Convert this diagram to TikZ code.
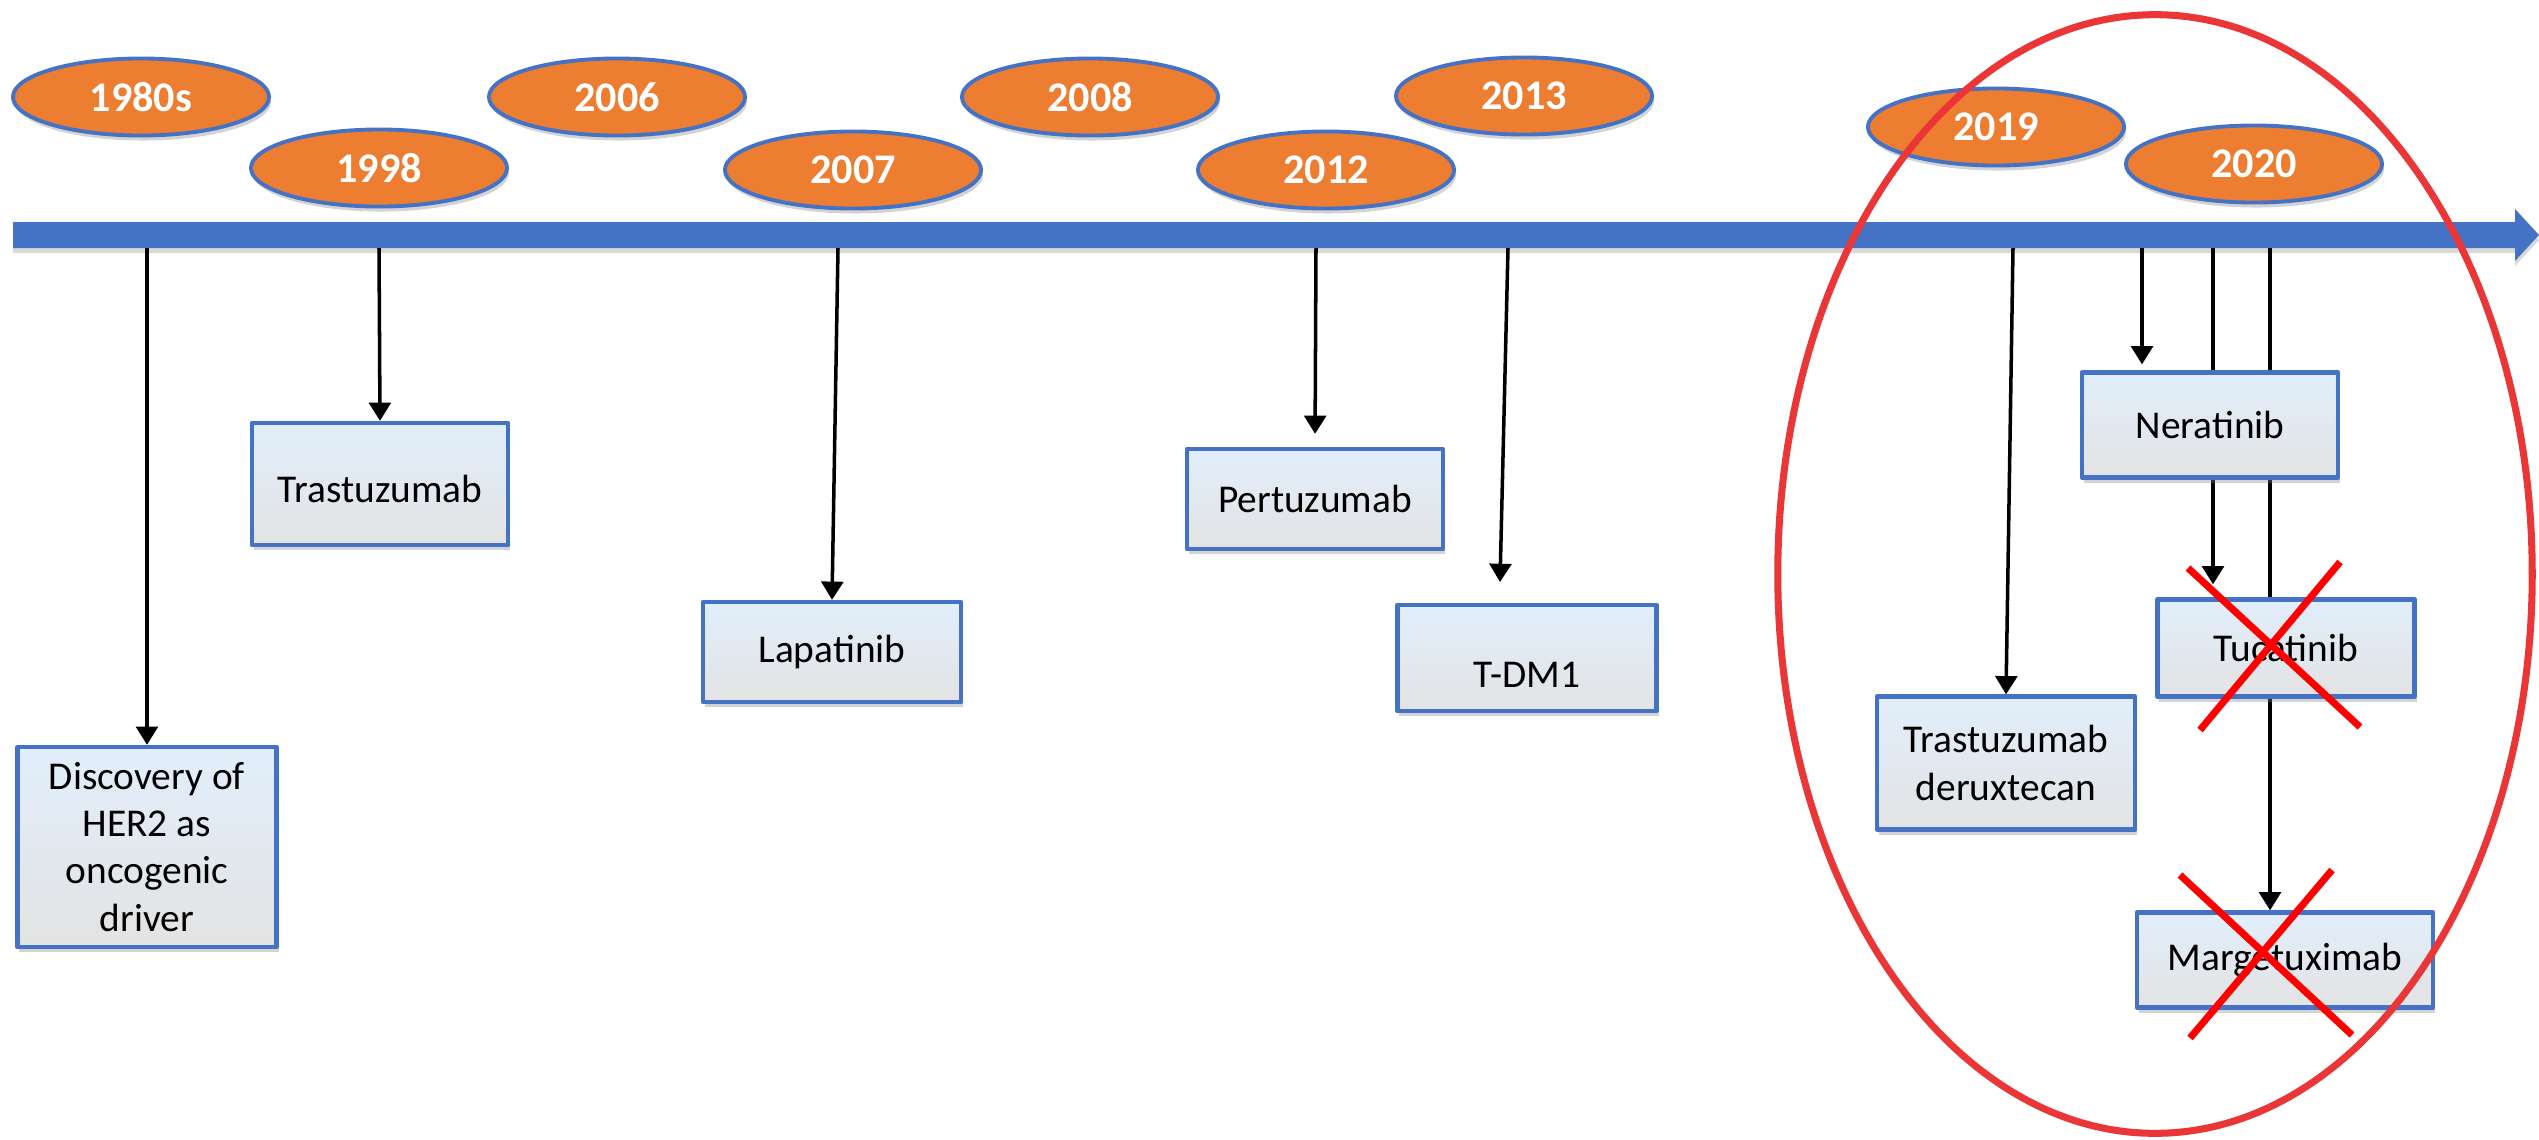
\documentclass[tikz,border=0pt]{standalone}
\usepackage{fontspec}
\setmainfont{Carlito}
\usepackage{tikz}
\usetikzlibrary{arrows.meta}
\usetikzlibrary{shapes.geometric}
\usetikzlibrary{shadows}
\usetikzlibrary{positioning}

\definecolor{axisblue}{HTML}{4472C4}
\definecolor{yearorange}{HTML}{ED7D31}
\definecolor{boxtop}{HTML}{E1EEFB}
\definecolor{boxbottom}{HTML}{E3E3E3}
\definecolor{ringred}{HTML}{EA3636}

\pgfdeclarelayer{background}
\pgfsetlayers{background,main}

\tikzset{
  year/.style={ellipse,draw=axisblue,line width=1.1pt,fill=yearorange,
    minimum width=2.56cm,minimum height=0.77cm,inner sep=0pt,text=white,
    font=\fontsize{12}{14}\selectfont\bfseries,
    drop shadow={opacity=0.35,shadow xshift=0.02cm,shadow yshift=-0.05cm}},
  drug/.style={rectangle,draw=axisblue,line width=1.2pt,top color=boxtop,bottom color=boxbottom,
    minimum width=2.56cm,minimum height=1cm,inner sep=2pt,align=center,
    font=\fontsize{11.2}{13.4}\selectfont,
    drop shadow={opacity=0.35,shadow xshift=0.02cm,shadow yshift=-0.05cm}},
  link/.style={->,line width=1pt,black},
  strike/.style={red,line width=2pt}
}

\begin{document}
\begin{tikzpicture}[line join=round,>={Triangle[width=6.2pt,length=5.2pt]},x=0.01cm,y=-0.01cm]
\useasboundingbox (0,0) rectangle (2539,1139);
% Years
\node[year] (y1980) at (141,97) {1980s};
\node[year] (y1998) at (379,168) {1998};
\node[year] (y2006) at (617,97) {2006};
\node[year] (y2007) at (853,170) {2007};
\node[year] (y2008) at (1090,97) {2008};
\node[year] (y2012) at (1326,170) {2012};
\node[year] (y2013) at (1524,96) {2013};
\node[year] (y2019) at (1996,127) {2019};
\node[year] (y2020) at (2254,164) {2020};
% Drugs
\node[drug,minimum width=2.59cm,minimum height=2cm] (disc) at (147,847) {Discovery of\\HER2 as\\oncogenic\\driver};
\node[drug,minimum height=1.22cm,text height=0.38cm] (tras) at (380,484) {Trastuzumab};
\node[drug,minimum width=2.58cm] (lapa) at (832,652) {Lapatinib};
\node[drug] (pertu) at (1315,499) {Pertuzumab};
\node[drug,minimum width=2.59cm,minimum height=1.06cm,text height=0.58cm] (tdm) at (1527,658) {T-DM1};
\node[drug,minimum width=2.58cm,minimum height=1.33cm] (tdx) at (2006,763) {Trastuzumab\\deruxtecan};
\node[drug,minimum height=1.05cm] (nera) at (2210,425) {Neratinib};
\node[drug,minimum width=2.57cm,minimum height=0.97cm] (tuca) at (2286,648) {Tucatinib};
\node[drug,minimum width=2.96cm,minimum height=0.95cm] (marg) at (2285,960) {Margetuximab};
% Timeline points
\coordinate (t1980) at (147,248);
\coordinate (t1998) at (379,248);
\coordinate (t2007) at (838,248);
\coordinate (t2012) at (1316,248);
\coordinate (t2013) at (1508,248);
\coordinate (t2019) at (2013,248);
\coordinate (t2020a) at (2142,248);
\coordinate (t2020b) at (2213,248);
\coordinate (t2020c) at (2270,248);
\coordinate (tdmtip) at (1500,582);
\begin{pgfonlayer}{background}
% Axis
\fill[axisblue,drop shadow={opacity=0.3,shadow xshift=0cm,shadow yshift=-0.05cm}]
  (13,222) -- (2515,222) -- (2515,209) -- (2539,235) -- (2515,261) -- (2515,248) -- (13,248) -- cycle;
% Arrows
\draw[link] (t1980) -- (disc.north);
\draw[link] (t1998) -- (tras.north);
\draw[link] (t2007) -- (lapa.north);
\draw[link,shorten >=0.13cm] (t2012) -- (pertu.north);
\draw[link] (t2013) -- (tdmtip);
\draw[link] (t2019) -- (tdx.north);
\draw[link,shorten >=0.06cm] (t2020a) -- (t2020a |- nera.north);
\draw[link,shorten >=0.13cm] (t2020b) -- (t2020b |- tuca.north);
\draw[link] (t2020c) -- (t2020c |- marg.north);
\end{pgfonlayer}
% Crossed out
\draw[strike] (2188,568) -- (2360,727);
\draw[strike] (2340,562) -- (2200,730);
\draw[strike] (2180,875) -- (2352,1035);
\draw[strike] (2332,870) -- (2190,1038);
% Recent approvals
\draw[ringred,line width=2pt] (2155,574) ellipse [x radius=3.77cm,y radius=5.59cm];
\end{tikzpicture}
\end{document}
